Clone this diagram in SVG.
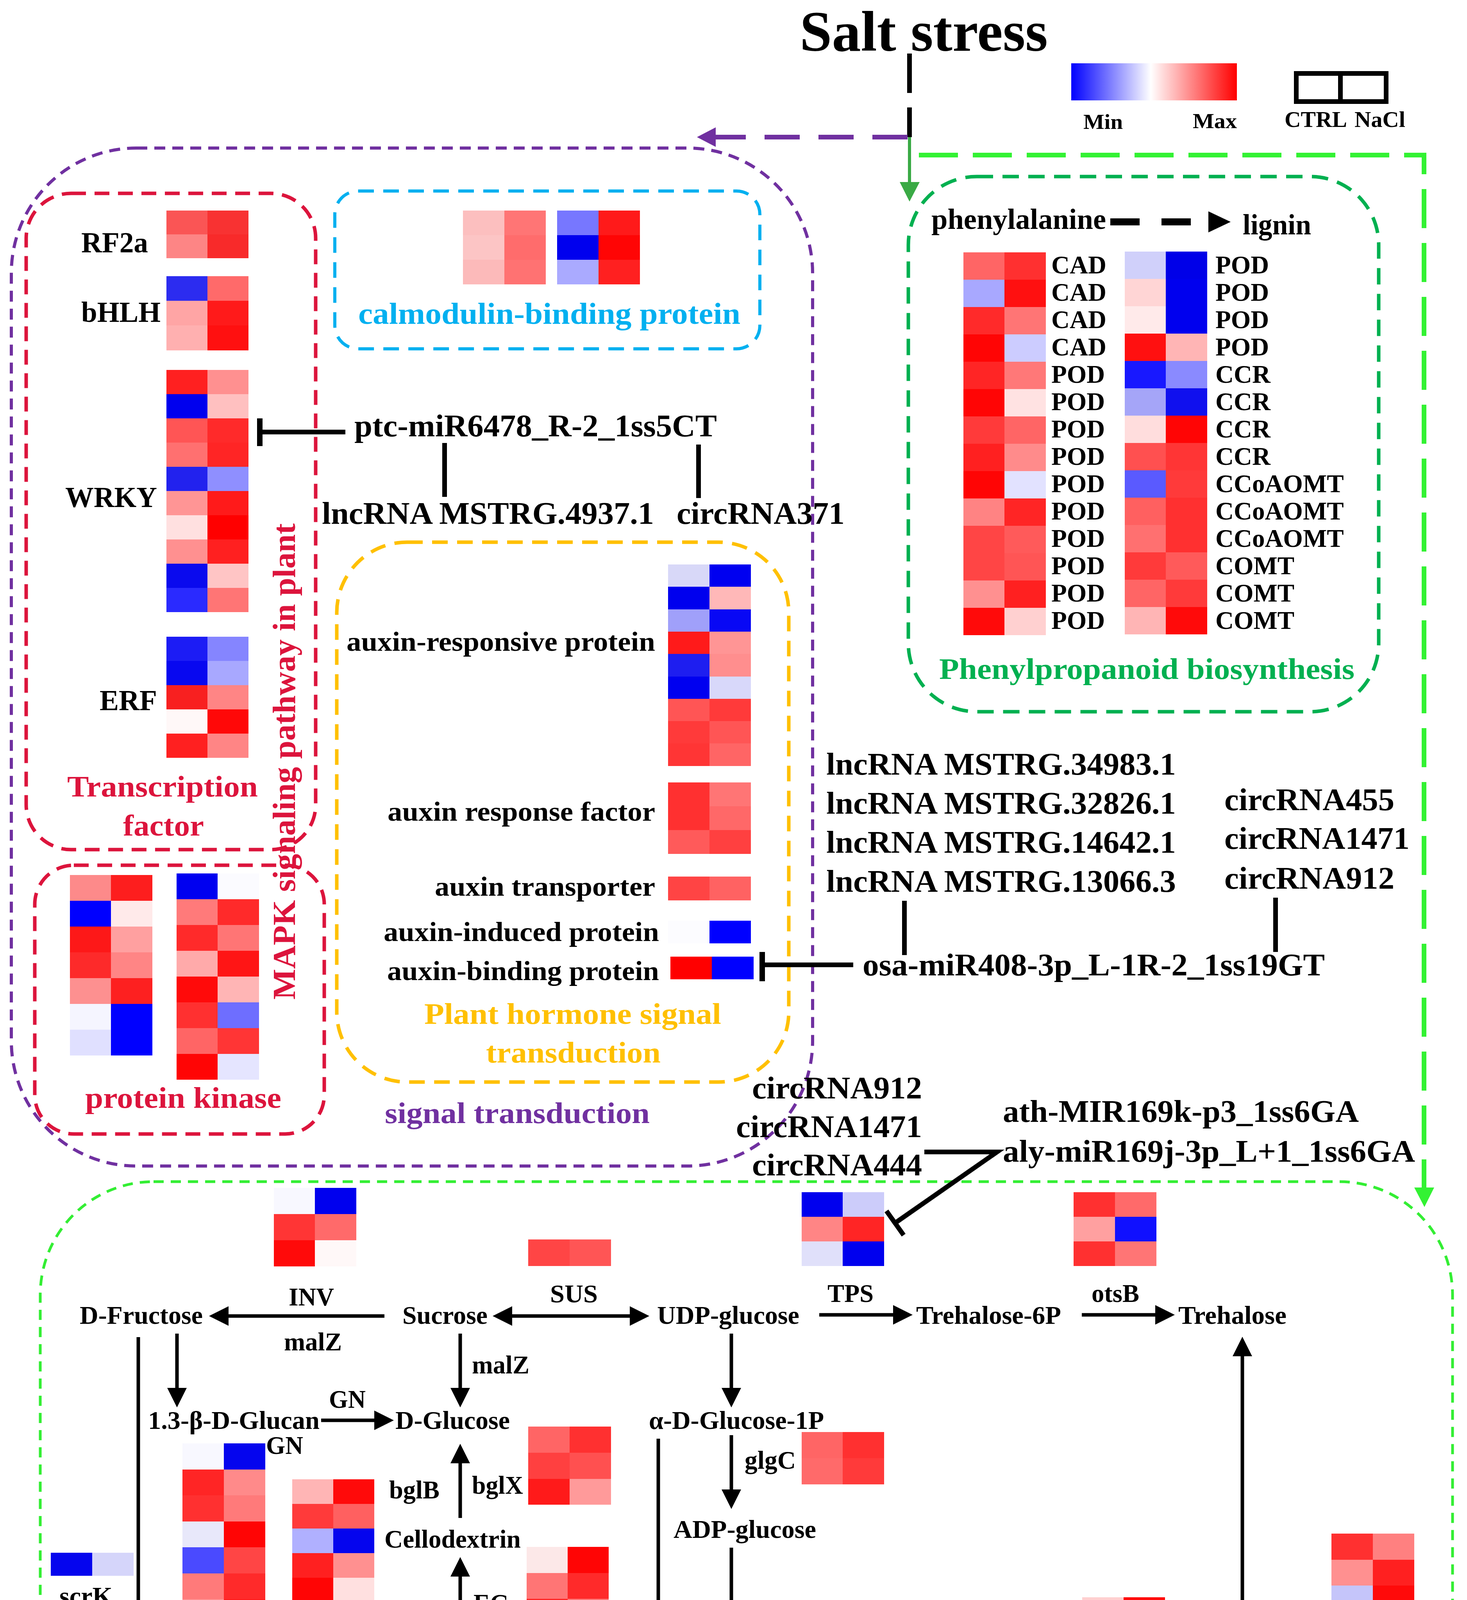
<svg xmlns="http://www.w3.org/2000/svg" width="3755" height="4988" viewBox="0 0 3755 4988">
<defs>
<style>
.t{font-family:"Liberation Serif","Times New Roman",serif;font-weight:bold;fill:#000}
.m{font-size:66px}
.n{font-size:81px}
.h{font-size:73px}
.g{font-size:65px}
.a{font-size:70px}
.L{font-size:76px}
.red{fill:#dc143c}
.box{fill:none}
.ln{stroke:#000;stroke-width:12;fill:none}
.ar{stroke:#000;stroke-width:9;fill:none}
.ds{stroke-dasharray:32 24}
</style>
<linearGradient id="grad" x1="0" x2="1" y1="0" y2="0"><stop offset="0" stop-color="#0000ff"/><stop offset="0.48" stop-color="#ffffff"/><stop offset="1" stop-color="#ff0000"/></linearGradient>
<marker id="ah" viewBox="0 0 50 50" refX="0" refY="25" markerWidth="50" markerHeight="50" markerUnits="userSpaceOnUse" orient="auto-start-reverse"><path d="M0,0L50,25L0,50z" fill="#000"/></marker>
</defs>
<rect width="3755" height="4988" fill="#fff"/>

<g id="boxes">
<rect id="box-signal" class="box" x="29" y="379" width="2051" height="2606" rx="320" stroke="#7030a0" stroke-width="8" stroke-dasharray="28 18"/>
<rect id="box-tf" class="box" x="67" y="495" width="741" height="1680" rx="115" stroke="#dc143c" stroke-width="9" stroke-dasharray="38 22"/>
<rect id="box-pk" class="box" x="89" y="2215" width="741" height="688" rx="100" stroke="#dc143c" stroke-width="9" stroke-dasharray="38 22"/>
<rect id="box-cam" class="box" x="857" y="489" width="1088" height="404" rx="60" stroke="#00b0f0" stroke-width="8" stroke-dasharray="40 24"/>
<rect id="box-hormone" class="box" x="862" y="1388" width="1157" height="1382" rx="180" stroke="#ffc000" stroke-width="9" stroke-dasharray="40 24"/>
<rect id="box-phenyl" class="box" x="2325" y="452" width="1204" height="1370" rx="175" stroke="#00b050" stroke-width="9" stroke-dasharray="42 24"/>
<rect id="box-starch" class="box" x="103" y="3025" width="3615" height="1932" rx="290" stroke="#33ee33" stroke-width="7" stroke-dasharray="26 18"/>
</g>

<g id="connectors">
<path d="M2328,137V351" stroke="#000" stroke-width="12" stroke-dasharray="101 37" fill="none"/>
<path d="M2323,351H1832" stroke="#7030a0" stroke-width="12" stroke-dasharray="90 48" fill="none"/>
<polygon points="1784,351 1832,326 1832,376" fill="#7030a0"/>
<path d="M2328,351V466" stroke="#3aaa45" stroke-width="8" fill="none"/>
<polygon points="2303,466 2354,466 2328,516" fill="#3aaa45"/>
<path d="M2352,397H3645V3040" stroke="#33f233" stroke-width="12" stroke-dasharray="100 38" fill="none"/>
<polygon points="3620,3040 3671,3040 3646,3090" fill="#33f233"/>
<path class="ln" d="M884,1106H665"/>
<path d="M665,1071V1142" stroke="#000" stroke-width="14"/>
<path class="ln" d="M1138,1134V1272"/>
<path class="ln" d="M1788,1138V1275"/>
<path class="ln" d="M2184,2470H1951"/>
<path d="M1951,2437V2512" stroke="#000" stroke-width="14"/>
<path class="ln" d="M2315,2306V2445"/>
<path class="ln" d="M3265,2298V2437"/>
<path class="ln" d="M2366,2949H2552L2291,3131"/>
<path d="M2269,3100L2313,3162" stroke="#000" stroke-width="12"/>
<path d="M2842,568H3093" stroke="#000" stroke-width="18" stroke-dasharray="75 56" fill="none"/>
<polygon points="3093,541 3093,595 3150,568" fill="#000"/>
<path class="ar" d="M984,3369H585" marker-end="url(#ah)"/>
<path class="ar" d="M1311,3369H1612" marker-start="url(#ah)" marker-end="url(#ah)"/>
<path class="ar" d="M2097,3366H2286" marker-end="url(#ah)"/>
<path class="ar" d="M2769,3366H2957" marker-end="url(#ah)"/>
<path class="ar" d="M3180,3472V4338" marker-start="url(#ah)" marker-end="url(#ah)"/>
<path class="ar" d="M354,3423V4674" marker-end="url(#ah)"/>
<path class="ar" d="M453,3414V3553" marker-end="url(#ah)"/>
<path class="ar" d="M822,3636H958" marker-end="url(#ah)"/>
<path class="ar" d="M1178,3414V3553" marker-end="url(#ah)"/>
<path class="ar" d="M1178,3886V3746" marker-end="url(#ah)"/>
<path class="ar" d="M1178,4177V4036" marker-end="url(#ah)"/>
<path class="ar" d="M1178,4422V4284" marker-end="url(#ah)"/>
<path class="ar" d="M1685,3683V4465H1498" marker-end="url(#ah)"/>
<path class="ar" d="M1872,3414V3553" marker-end="url(#ah)"/>
<path class="ar" d="M1872,3674V3813" marker-end="url(#ah)"/>
<path class="ar" d="M1872,3962V4100" marker-end="url(#ah)"/>
<path class="ar ds" d="M1872,4231V4367" marker-end="url(#ah)"/>
<path class="ar ds" d="M1985,4465H2264" marker-end="url(#ah)"/>
<path class="ar" d="M2769,4465H2978" marker-end="url(#ah)"/>
<path class="ar" d="M3182,4512V4678" marker-end="url(#ah)"/>
<path class="ar ds" d="M1871,4503V4642" marker-end="url(#ah)"/>
</g>

<g id="title"><text class="t" x="2047" y="130" font-size="146" textLength="635" lengthAdjust="spacingAndGlyphs">Salt stress</text></g>

<g id="legend">
<rect x="2742" y="162" width="424" height="95" fill="url(#grad)"/>
<text class="t" x="2773" y="330" font-size="54" textLength="101" lengthAdjust="spacingAndGlyphs">Min</text>
<text class="t" x="3053" y="328" font-size="54" textLength="113" lengthAdjust="spacingAndGlyphs">Max</text>
<rect x="3318" y="188" width="230" height="72" fill="none" stroke="#000" stroke-width="12"/>
<path d="M3431,188V260" stroke="#000" stroke-width="12"/>
<text class="t" x="3288" y="325" font-size="56" textLength="160" lengthAdjust="spacingAndGlyphs">CTRL</text>
<text class="t" x="3467" y="325" font-size="56" textLength="130" lengthAdjust="spacingAndGlyphs">NaCl</text>
</g>

<g id="hm-rf2a" transform="translate(426,539)">
<rect x="0" y="0" width="106" height="62" fill="#fa5555"/><rect x="105" y="0" width="105" height="62" fill="#f83232"/>
<rect x="0" y="61" width="106" height="61" fill="#fd8585"/><rect x="105" y="61" width="105" height="61" fill="#f82a2a"/>
</g>
<g id="lbl-rf2a"><text class="t h" x="208" y="646" textLength="171" lengthAdjust="spacingAndGlyphs">RF2a</text></g>

<g id="hm-bhlh" transform="translate(426,707)">
<rect x="0" y="0" width="106" height="64" fill="#2c2cf0"/><rect x="105" y="0" width="105" height="64" fill="#ff6a6a"/>
<rect x="0" y="63" width="106" height="64" fill="#ffa5a5"/><rect x="105" y="63" width="105" height="64" fill="#ff1a1a"/>
<rect x="0" y="126" width="106" height="64" fill="#ffb0b0"/><rect x="105" y="126" width="105" height="64" fill="#ff1010"/>
</g>
<g id="lbl-bhlh"><text class="t h" x="208" y="824" textLength="203" lengthAdjust="spacingAndGlyphs">bHLH</text></g>

<g id="hm-wrky" transform="translate(426,947)">
<rect x="0" y="0" width="106" height="63" fill="#ff2020"/><rect x="105" y="0" width="105" height="63" fill="#ff9090"/>
<rect x="0" y="62" width="106" height="63" fill="#0000ee"/><rect x="105" y="62" width="105" height="63" fill="#ffc0c0"/>
<rect x="0" y="124" width="106" height="63" fill="#ff5555"/><rect x="105" y="124" width="105" height="63" fill="#ff2a2a"/>
<rect x="0" y="186" width="106" height="63" fill="#ff7070"/><rect x="105" y="186" width="105" height="63" fill="#ff2525"/>
<rect x="0" y="248" width="106" height="63" fill="#2222ee"/><rect x="105" y="248" width="105" height="63" fill="#8f8fff"/>
<rect x="0" y="310" width="106" height="63" fill="#ff9595"/><rect x="105" y="310" width="105" height="63" fill="#ff1a1a"/>
<rect x="0" y="372" width="106" height="63" fill="#ffe0e0"/><rect x="105" y="372" width="105" height="63" fill="#ff0000"/>
<rect x="0" y="434" width="106" height="63" fill="#ff9090"/><rect x="105" y="434" width="105" height="63" fill="#ff2020"/>
<rect x="0" y="496" width="106" height="63" fill="#0a0aee"/><rect x="105" y="496" width="105" height="63" fill="#ffc5c5"/>
<rect x="0" y="558" width="106" height="62" fill="#2a2aff"/><rect x="105" y="558" width="105" height="62" fill="#ff7575"/>
</g>
<g id="lbl-wrky"><text class="t h" x="167" y="1298" textLength="235" lengthAdjust="spacingAndGlyphs">WRKY</text></g>

<g id="hm-erf" transform="translate(426,1630)">
<rect x="0" y="0" width="106" height="63" fill="#1c1cf5"/><rect x="105" y="0" width="105" height="63" fill="#8585ff"/>
<rect x="0" y="62" width="106" height="63" fill="#0808f0"/><rect x="105" y="62" width="105" height="63" fill="#a8a8ff"/>
<rect x="0" y="124" width="106" height="63" fill="#f82020"/><rect x="105" y="124" width="105" height="63" fill="#ff8585"/>
<rect x="0" y="186" width="106" height="63" fill="#fff8f8"/><rect x="105" y="186" width="105" height="63" fill="#ff0808"/>
<rect x="0" y="248" width="106" height="62" fill="#ff2020"/><rect x="105" y="248" width="105" height="62" fill="#ff8585"/>
</g>
<g id="lbl-erf"><text class="t h" x="255" y="1818" textLength="147" lengthAdjust="spacingAndGlyphs">ERF</text></g>

<g id="lbl-tf">
<text class="t L red" x="172" y="2039" textLength="488" lengthAdjust="spacingAndGlyphs">Transcription</text>
<text class="t L red" x="315" y="2139" textLength="207" lengthAdjust="spacingAndGlyphs">factor</text>
</g>

<g id="hm-pk1" transform="translate(179,2240)">
<rect x="0" y="0" width="106" height="67" fill="#fd8a8a"/><rect x="105" y="0" width="106" height="67" fill="#fd1e1e"/>
<rect x="0" y="66" width="106" height="67" fill="#0000ff"/><rect x="105" y="66" width="106" height="67" fill="#ffeaea"/>
<rect x="0" y="132" width="106" height="67" fill="#fd1818"/><rect x="105" y="132" width="106" height="67" fill="#ffa0a0"/>
<rect x="0" y="198" width="106" height="67" fill="#fd2a2a"/><rect x="105" y="198" width="106" height="67" fill="#ff8585"/>
<rect x="0" y="264" width="106" height="67" fill="#fd9090"/><rect x="105" y="264" width="106" height="67" fill="#fd2020"/>
<rect x="0" y="330" width="106" height="67" fill="#f5f5ff"/><rect x="105" y="330" width="106" height="67" fill="#0000ff"/>
<rect x="0" y="396" width="106" height="66" fill="#e0e0ff"/><rect x="105" y="396" width="106" height="66" fill="#0000ff"/>
</g>
<g id="hm-pk2" transform="translate(452,2236)">
<rect x="0" y="0" width="106" height="67" fill="#0000f0"/><rect x="105" y="0" width="106" height="67" fill="#fbfbff"/>
<rect x="0" y="66" width="106" height="67" fill="#ff7a7a"/><rect x="105" y="66" width="106" height="67" fill="#ff2a2a"/>
<rect x="0" y="132" width="106" height="67" fill="#ff2a2a"/><rect x="105" y="132" width="106" height="67" fill="#ff7575"/>
<rect x="0" y="198" width="106" height="67" fill="#ffaaaa"/><rect x="105" y="198" width="106" height="67" fill="#ff1515"/>
<rect x="0" y="264" width="106" height="67" fill="#ff0a0a"/><rect x="105" y="264" width="106" height="67" fill="#ffb5b5"/>
<rect x="0" y="330" width="106" height="67" fill="#ff3030"/><rect x="105" y="330" width="106" height="67" fill="#6e6eff"/>
<rect x="0" y="396" width="106" height="67" fill="#ff6565"/><rect x="105" y="396" width="106" height="67" fill="#ff3535"/>
<rect x="0" y="462" width="106" height="66" fill="#ff0505"/><rect x="105" y="462" width="106" height="66" fill="#e5e5ff"/>
</g>
<g id="lbl-pk"><text class="t L red" x="218" y="2836" textLength="502" lengthAdjust="spacingAndGlyphs">protein kinase</text></g>

<g id="lbl-mapk"><text class="t red" font-size="83" transform="translate(755,2559) rotate(-90)" textLength="1219" lengthAdjust="spacingAndGlyphs">MAPK signaling pathway in plant</text></g>

<g id="hm-cam1" transform="translate(1185,539)">
<rect x="0" y="0" width="107" height="64" fill="#fcbfbf"/><rect x="106" y="0" width="106" height="64" fill="#ff7575"/>
<rect x="0" y="63" width="107" height="64" fill="#fcc5c5"/><rect x="106" y="63" width="106" height="64" fill="#ff6c6c"/>
<rect x="0" y="126" width="107" height="63" fill="#fcbaba"/><rect x="106" y="126" width="106" height="63" fill="#ff7272"/>
</g>
<g id="hm-cam2" transform="translate(1426,539)">
<rect x="0" y="0" width="107" height="64" fill="#7777ff"/><rect x="106" y="0" width="106" height="64" fill="#ff1a1a"/>
<rect x="0" y="63" width="107" height="64" fill="#0000ee"/><rect x="106" y="63" width="106" height="64" fill="#ff0505"/>
<rect x="0" y="126" width="107" height="63" fill="#aaaaff"/><rect x="106" y="126" width="106" height="63" fill="#ff2020"/>
</g>
<g id="lbl-cam"><text class="t" font-size="78" x="917" y="829" style="fill:#00b0f0" textLength="978" lengthAdjust="spacingAndGlyphs">calmodulin-binding protein</text></g>

<g id="n-ptc"><text class="t n" x="907" y="1117" textLength="928" lengthAdjust="spacingAndGlyphs">ptc-miR6478_R-2_1ss5CT</text></g>
<g id="n-lnc4937"><text class="t n" x="824" y="1341" textLength="850" lengthAdjust="spacingAndGlyphs">lncRNA MSTRG.4937.1</text></g>
<g id="n-circ371"><text class="t n" x="1732" y="1341" textLength="430" lengthAdjust="spacingAndGlyphs">circRNA371</text></g>

<g id="hm-aux1" transform="translate(1710,1445)">
<rect x="0" y="0" width="107" height="58" fill="#d8d8f8"/><rect x="106" y="0" width="106" height="58" fill="#0000f0"/>
<rect x="0" y="57" width="107" height="59" fill="#0000ee"/><rect x="106" y="57" width="106" height="59" fill="#ffb8b8"/>
<rect x="0" y="115" width="107" height="58" fill="#a0a0fa"/><rect x="106" y="115" width="106" height="58" fill="#0808f5"/>
<rect x="0" y="172" width="107" height="58" fill="#ff1a1a"/><rect x="106" y="172" width="106" height="58" fill="#ff9595"/>
<rect x="0" y="229" width="107" height="59" fill="#1e1ef0"/><rect x="106" y="229" width="106" height="59" fill="#ff8e8e"/>
<rect x="0" y="287" width="107" height="58" fill="#0000f0"/><rect x="106" y="287" width="106" height="58" fill="#d8d8fa"/>
<rect x="0" y="344" width="107" height="58" fill="#ff5555"/><rect x="106" y="344" width="106" height="58" fill="#ff3a3a"/>
<rect x="0" y="401" width="107" height="58" fill="#ff3a3a"/><rect x="106" y="401" width="106" height="58" fill="#ff5555"/>
<rect x="0" y="458" width="107" height="58" fill="#ff3535"/><rect x="106" y="458" width="106" height="58" fill="#ff6565"/>
</g>
<g id="lbl-aux1"><text class="t a" x="887" y="1666" textLength="790" lengthAdjust="spacingAndGlyphs">auxin-responsive protein</text></g>
<g id="hm-arf" transform="translate(1710,2003)">
<rect x="0" y="0" width="107" height="62" fill="#ff3030"/><rect x="106" y="0" width="106" height="62" fill="#ff7575"/>
<rect x="0" y="61" width="107" height="62" fill="#ff3030"/><rect x="106" y="61" width="106" height="62" fill="#ff6868"/>
<rect x="0" y="122" width="107" height="61" fill="#ff5a5a"/><rect x="106" y="122" width="106" height="61" fill="#ff4040"/>
</g>
<g id="lbl-arf"><text class="t a" x="992" y="2101" textLength="685" lengthAdjust="spacingAndGlyphs">auxin response factor</text></g>
<g id="hm-atr" transform="translate(1710,2244)">
<rect x="0" y="0" width="107" height="61" fill="#ff4444"/><rect x="106" y="0" width="106" height="61" fill="#ff6262"/>
</g>
<g id="lbl-atr"><text class="t a" x="1113" y="2293" textLength="564" lengthAdjust="spacingAndGlyphs">auxin transporter</text></g>
<g id="hm-aind" transform="translate(1710,2357)">
<rect x="0" y="0" width="107" height="58" fill="#fcfcff"/><rect x="106" y="0" width="106" height="58" fill="#0000ff"/>
</g>
<g id="lbl-aind"><text class="t a" x="982" y="2409" textLength="705" lengthAdjust="spacingAndGlyphs">auxin-induced protein</text></g>
<g id="hm-abp" transform="translate(1716,2449)">
<rect x="0" y="0" width="107" height="58" fill="#ff0000"/><rect x="106" y="0" width="107" height="58" fill="#0000ff"/>
</g>
<g id="lbl-abp"><text class="t a" x="991" y="2509" textLength="696" lengthAdjust="spacingAndGlyphs">auxin-binding protein</text></g>
<g id="lbl-hormone">
<text class="t L" x="1086" y="2621" style="fill:#ffc000" textLength="760" lengthAdjust="spacingAndGlyphs">Plant hormone signal</text>
<text class="t L" x="1244" y="2720" style="fill:#ffc000" textLength="447" lengthAdjust="spacingAndGlyphs">transduction</text>
</g>
<g id="lbl-signal"><text class="t L" x="985" y="2875" style="fill:#7030a0" textLength="678" lengthAdjust="spacingAndGlyphs">signal transduction</text></g>

<g id="n-phe"><text class="t" font-size="74" x="2384" y="586" textLength="447" lengthAdjust="spacingAndGlyphs">phenylalanine</text></g>
<g id="n-lignin"><text class="t" font-size="74" x="3181" y="600" textLength="175" lengthAdjust="spacingAndGlyphs">lignin</text></g>

<g id="hm-ph1" transform="translate(2466,646)">
<rect x="0" y="0" width="106" height="71" fill="#ff6565"/><rect x="105" y="0" width="106" height="71" fill="#ff3030"/>
<rect x="0" y="70" width="106" height="71" fill="#a8a8ff"/><rect x="105" y="70" width="106" height="71" fill="#ff1010"/>
<rect x="0" y="140" width="106" height="71" fill="#ff2a2a"/><rect x="105" y="140" width="106" height="71" fill="#ff7575"/>
<rect x="0" y="210" width="106" height="71" fill="#ff0505"/><rect x="105" y="210" width="106" height="71" fill="#ccccff"/>
<rect x="0" y="280" width="106" height="71" fill="#ff2525"/><rect x="105" y="280" width="106" height="71" fill="#ff7878"/>
<rect x="0" y="350" width="106" height="71" fill="#ff0505"/><rect x="105" y="350" width="106" height="71" fill="#ffe2e2"/>
<rect x="0" y="420" width="106" height="71" fill="#ff3a3a"/><rect x="105" y="420" width="106" height="71" fill="#ff6565"/>
<rect x="0" y="490" width="106" height="71" fill="#ff2020"/><rect x="105" y="490" width="106" height="71" fill="#ff8b8b"/>
<rect x="0" y="560" width="106" height="71" fill="#ff0505"/><rect x="105" y="560" width="106" height="71" fill="#e2e2ff"/>
<rect x="0" y="630" width="106" height="71" fill="#ff8383"/><rect x="105" y="630" width="106" height="71" fill="#ff2525"/>
<rect x="0" y="700" width="106" height="71" fill="#ff4545"/><rect x="105" y="700" width="106" height="71" fill="#ff5a5a"/>
<rect x="0" y="770" width="106" height="71" fill="#ff4545"/><rect x="105" y="770" width="106" height="71" fill="#ff5555"/>
<rect x="0" y="840" width="106" height="71" fill="#ff9090"/><rect x="105" y="840" width="106" height="71" fill="#ff2020"/>
<rect x="0" y="910" width="106" height="70" fill="#ff0a0a"/><rect x="105" y="910" width="106" height="70" fill="#ffd0d0"/>
</g>
<g id="hm-ph2" transform="translate(2879,644)">
<rect x="0" y="0" width="106" height="71" fill="#d0d0fa"/><rect x="105" y="0" width="106" height="71" fill="#0000e8"/>
<rect x="0" y="70" width="106" height="71" fill="#ffd5d5"/><rect x="105" y="70" width="106" height="71" fill="#0000ee"/>
<rect x="0" y="140" width="106" height="71" fill="#ffeaea"/><rect x="105" y="140" width="106" height="71" fill="#0000ee"/>
<rect x="0" y="210" width="106" height="71" fill="#ff1010"/><rect x="105" y="210" width="106" height="71" fill="#ffb5b5"/>
<rect x="0" y="280" width="106" height="71" fill="#1818ff"/><rect x="105" y="280" width="106" height="71" fill="#8a8aff"/>
<rect x="0" y="350" width="106" height="71" fill="#a5a5f8"/><rect x="105" y="350" width="106" height="71" fill="#1010ee"/>
<rect x="0" y="420" width="106" height="71" fill="#ffdddd"/><rect x="105" y="420" width="106" height="71" fill="#ff0505"/>
<rect x="0" y="490" width="106" height="71" fill="#ff5050"/><rect x="105" y="490" width="106" height="71" fill="#ff3535"/>
<rect x="0" y="560" width="106" height="71" fill="#5a5aff"/><rect x="105" y="560" width="106" height="71" fill="#ff3a3a"/>
<rect x="0" y="630" width="106" height="71" fill="#ff6060"/><rect x="105" y="630" width="106" height="71" fill="#ff3030"/>
<rect x="0" y="700" width="106" height="71" fill="#ff7070"/><rect x="105" y="700" width="106" height="71" fill="#ff3030"/>
<rect x="0" y="770" width="106" height="71" fill="#ff3a3a"/><rect x="105" y="770" width="106" height="71" fill="#ff5a5a"/>
<rect x="0" y="840" width="106" height="71" fill="#ff6565"/><rect x="105" y="840" width="106" height="71" fill="#ff3a3a"/>
<rect x="0" y="910" width="106" height="70" fill="#ffb5b5"/><rect x="105" y="910" width="106" height="70" fill="#ff0a0a"/>
</g>
<g id="lbl-ph1" class="t g">
<text x="2691" y="700">CAD</text><text x="2691" y="770">CAD</text><text x="2691" y="840">CAD</text><text x="2691" y="910">CAD</text>
<text x="2691" y="980">POD</text><text x="2691" y="1050">POD</text><text x="2691" y="1120">POD</text><text x="2691" y="1190">POD</text>
<text x="2691" y="1260">POD</text><text x="2691" y="1330">POD</text><text x="2691" y="1400">POD</text><text x="2691" y="1470">POD</text>
<text x="2691" y="1540">POD</text><text x="2691" y="1610">POD</text>
</g>
<g id="lbl-ph2" class="t g">
<text x="3111" y="700">POD</text><text x="3111" y="770">POD</text><text x="3111" y="840">POD</text><text x="3111" y="910">POD</text>
<text x="3111" y="980">CCR</text><text x="3111" y="1050">CCR</text><text x="3111" y="1120">CCR</text><text x="3111" y="1190">CCR</text>
<text x="3111" y="1260">CCoAOMT</text><text x="3111" y="1330">CCoAOMT</text><text x="3111" y="1400">CCoAOMT</text>
<text x="3111" y="1470">COMT</text><text x="3111" y="1540">COMT</text><text x="3111" y="1610">COMT</text>
</g>
<g id="lbl-phenyl"><text class="t L" x="2404" y="1738" style="fill:#00b050" textLength="1063" lengthAdjust="spacingAndGlyphs">Phenylpropanoid biosynthesis</text></g>

<g id="n-lnc-group">
<text class="t n" x="2115" y="1983" textLength="895" lengthAdjust="spacingAndGlyphs">lncRNA MSTRG.34983.1</text>
<text class="t n" x="2115" y="2083" textLength="895" lengthAdjust="spacingAndGlyphs">lncRNA MSTRG.32826.1</text>
<text class="t n" x="2115" y="2183" textLength="895" lengthAdjust="spacingAndGlyphs">lncRNA MSTRG.14642.1</text>
<text class="t n" x="2115" y="2283" textLength="895" lengthAdjust="spacingAndGlyphs">lncRNA MSTRG.13066.3</text>
</g>
<g id="n-circ-group1">
<text class="t n" x="3134" y="2074" textLength="435" lengthAdjust="spacingAndGlyphs">circRNA455</text>
<text class="t n" x="3134" y="2173" textLength="474" lengthAdjust="spacingAndGlyphs">circRNA1471</text>
<text class="t n" x="3134" y="2275" textLength="435" lengthAdjust="spacingAndGlyphs">circRNA912</text>
</g>
<g id="n-osa"><text class="t n" x="2208" y="2497" textLength="1183" lengthAdjust="spacingAndGlyphs">osa-miR408-3p_L-1R-2_1ss19GT</text></g>
<g id="n-circ-group2">
<text class="t n" x="1925" y="2812" textLength="435" lengthAdjust="spacingAndGlyphs">circRNA912</text>
<text class="t n" x="1884" y="2911" textLength="476" lengthAdjust="spacingAndGlyphs">circRNA1471</text>
<text class="t n" x="1925" y="3009" textLength="435" lengthAdjust="spacingAndGlyphs">circRNA444</text>
</g>
<g id="n-mir169">
<text class="t n" x="2567" y="2872" textLength="911" lengthAdjust="spacingAndGlyphs">ath-MIR169k-p3_1ss6GA</text>
<text class="t n" x="2567" y="2974" textLength="1055" lengthAdjust="spacingAndGlyphs">aly-miR169j-3p_L+1_1ss6GA</text>
</g>

<g id="hm-inv" transform="translate(701,3041)">
<rect x="0" y="0" width="106" height="68" fill="#f8f8ff"/><rect x="105" y="0" width="106" height="68" fill="#0000ee"/>
<rect x="0" y="67" width="106" height="68" fill="#ff3535"/><rect x="105" y="67" width="106" height="68" fill="#ff6a6a"/>
<rect x="0" y="134" width="106" height="67" fill="#ff0a0a"/><rect x="105" y="134" width="106" height="67" fill="#fff8f8"/>
</g>
<g id="hm-sus" transform="translate(1352,3173)">
<rect x="0" y="0" width="107" height="68" fill="#ff4545"/><rect x="106" y="0" width="106" height="68" fill="#ff5555"/>
</g>
<g id="hm-tps" transform="translate(2052,3052)">
<rect x="0" y="0" width="106" height="64" fill="#0000ee"/><rect x="105" y="0" width="106" height="64" fill="#ccccfa"/>
<rect x="0" y="63" width="106" height="64" fill="#ff8585"/><rect x="105" y="63" width="106" height="64" fill="#ff2525"/>
<rect x="0" y="126" width="106" height="63" fill="#e0e0fa"/><rect x="105" y="126" width="106" height="63" fill="#0000ee"/>
</g>
<g id="hm-otsb" transform="translate(2748,3052)">
<rect x="0" y="0" width="107" height="64" fill="#ff3030"/><rect x="106" y="0" width="106" height="64" fill="#ff6a6a"/>
<rect x="0" y="63" width="107" height="64" fill="#ffa0a0"/><rect x="106" y="63" width="106" height="64" fill="#1010ff"/>
<rect x="0" y="126" width="107" height="63" fill="#ff3030"/><rect x="106" y="126" width="106" height="63" fill="#ff7575"/>
</g>

<g id="hm-gn" transform="translate(467,3695)">
<rect x="0" y="0" width="107" height="68" fill="#f8f8ff"/><rect x="106" y="0" width="106" height="68" fill="#0505ee"/>
<rect x="0" y="67" width="107" height="67" fill="#ff2525"/><rect x="106" y="67" width="106" height="67" fill="#ff8a8a"/>
<rect x="0" y="133" width="107" height="68" fill="#ff3030"/><rect x="106" y="133" width="106" height="68" fill="#ff7a7a"/>
<rect x="0" y="200" width="107" height="67" fill="#e8e8fa"/><rect x="106" y="200" width="106" height="67" fill="#ff0505"/>
<rect x="0" y="266" width="107" height="68" fill="#4a4aff"/><rect x="106" y="266" width="106" height="68" fill="#ff4545"/>
<rect x="0" y="333" width="107" height="67" fill="#ff7a7a"/><rect x="106" y="333" width="106" height="67" fill="#ff2a2a"/>
<rect x="0" y="399" width="107" height="68" fill="#ff9595"/><rect x="106" y="399" width="106" height="68" fill="#ff1a1a"/>
<rect x="0" y="466" width="107" height="67" fill="#ff3a3a"/><rect x="106" y="466" width="106" height="67" fill="#ff6060"/>
<rect x="0" y="532" width="107" height="68" fill="#ff2020"/><rect x="106" y="532" width="106" height="68" fill="#ff8585"/>
<rect x="0" y="599" width="107" height="67" fill="#ff3030"/><rect x="106" y="599" width="106" height="67" fill="#ff6a6a"/>
<rect x="0" y="665" width="107" height="68" fill="#ff0505"/><rect x="106" y="665" width="106" height="68" fill="#fafffa"/>
<rect x="0" y="732" width="107" height="67" fill="#ff3030"/><rect x="106" y="732" width="106" height="67" fill="#ff7070"/>
<rect x="0" y="798" width="107" height="68" fill="#ff3535"/><rect x="106" y="798" width="106" height="68" fill="#ff6a6a"/>
<rect x="0" y="865" width="107" height="67" fill="#9090f8"/><rect x="106" y="865" width="106" height="67" fill="#1515ff"/>
<rect x="0" y="931" width="107" height="67" fill="#ff4040"/><rect x="106" y="931" width="106" height="67" fill="#ff5a5a"/>
</g>
<g id="hm-bglb" transform="translate(748,3787)">
<rect x="0" y="0" width="106" height="64" fill="#ffb5b5"/><rect x="105" y="0" width="105" height="64" fill="#ff0a0a"/>
<rect x="0" y="63" width="106" height="64" fill="#ff3a3a"/><rect x="105" y="63" width="105" height="64" fill="#ff6060"/>
<rect x="0" y="126" width="106" height="64" fill="#b0b0ff"/><rect x="105" y="126" width="105" height="64" fill="#0505ee"/>
<rect x="0" y="189" width="106" height="64" fill="#ff2020"/><rect x="105" y="189" width="105" height="64" fill="#ff9090"/>
<rect x="0" y="252" width="106" height="63" fill="#ff0505"/><rect x="105" y="252" width="105" height="63" fill="#ffe0e0"/>
</g>
<g id="hm-bglx" transform="translate(1352,3652)">
<rect x="0" y="0" width="107" height="68" fill="#ff6565"/><rect x="106" y="0" width="106" height="68" fill="#ff3030"/>
<rect x="0" y="67" width="107" height="68" fill="#ff4040"/><rect x="106" y="67" width="106" height="68" fill="#ff5050"/>
<rect x="0" y="134" width="107" height="66" fill="#ff1a1a"/><rect x="106" y="134" width="106" height="66" fill="#ff9a9a"/>
</g>
<g id="hm-eg" transform="translate(1348,3960)">
<rect x="0" y="0" width="106" height="68" fill="#fce8e8"/><rect x="105" y="0" width="105" height="68" fill="#ff0505"/>
<rect x="0" y="67" width="106" height="67" fill="#ff7575"/><rect x="105" y="67" width="105" height="67" fill="#ff2a2a"/>
<rect x="0" y="133" width="106" height="68" fill="#ff2525"/><rect x="105" y="133" width="105" height="68" fill="#ff7a7a"/>
<rect x="0" y="200" width="106" height="67" fill="#ff9090"/><rect x="105" y="200" width="105" height="67" fill="#ff2020"/>
<rect x="0" y="266" width="106" height="68" fill="#ff6a6a"/><rect x="105" y="266" width="105" height="68" fill="#ff3030"/>
<rect x="0" y="333" width="106" height="66" fill="#ff7070"/><rect x="105" y="333" width="105" height="66" fill="#ff3030"/>
</g>
<g id="hm-scrk" transform="translate(130,3975)">
<rect x="0" y="0" width="107" height="59" fill="#0505ee"/><rect x="106" y="0" width="106" height="59" fill="#d5d5fa"/>
</g>
<g id="hm-glgc" transform="translate(2052,3666)">
<rect x="0" y="0" width="106" height="68" fill="#ff6565"/><rect x="105" y="0" width="106" height="68" fill="#ff3030"/>
<rect x="0" y="67" width="106" height="67" fill="#ff6a6a"/><rect x="105" y="67" width="106" height="67" fill="#ff3a3a"/>
</g>
<g id="hm-isa" transform="translate(2021,4273)">
<rect x="0" y="0" width="107" height="72" fill="#ff1515"/><rect x="106" y="0" width="106" height="72" fill="#ffaaaa"/>
</g>
<g id="hm-amy" transform="translate(2770,4089)">
<rect x="0" y="0" width="107" height="63" fill="#ffd0d0"/><rect x="106" y="0" width="106" height="63" fill="#ff0a0a"/>
<rect x="0" y="62" width="107" height="63" fill="#ff8585"/><rect x="106" y="62" width="106" height="63" fill="#ff2020"/>
<rect x="0" y="124" width="107" height="63" fill="#ffc5c5"/><rect x="106" y="124" width="106" height="63" fill="#ff0a0a"/>
<rect x="0" y="186" width="107" height="62" fill="#1010ee"/><rect x="106" y="186" width="106" height="62" fill="#a0a0ff"/>
</g>
<g id="hm-mal" transform="translate(3408,3926)">
<rect x="0" y="0" width="107" height="68" fill="#ff3030"/><rect x="106" y="0" width="106" height="68" fill="#ff8080"/>
<rect x="0" y="67" width="107" height="67" fill="#ff9090"/><rect x="106" y="67" width="106" height="67" fill="#ff2020"/>
<rect x="0" y="133" width="107" height="68" fill="#c5c5fa"/><rect x="106" y="133" width="106" height="68" fill="#ff0a0a"/>
<rect x="0" y="200" width="107" height="68" fill="#0505ee"/><rect x="106" y="200" width="106" height="68" fill="#b0b0fa"/>
<rect x="0" y="267" width="107" height="68" fill="#fde5e5"/><rect x="106" y="267" width="106" height="68" fill="#ff0a0a"/>
<rect x="0" y="334" width="107" height="67" fill="#ff9595"/><rect x="106" y="334" width="106" height="67" fill="#ff1a1a"/>
<rect x="0" y="400" width="107" height="68" fill="#4040ff"/><rect x="106" y="400" width="106" height="68" fill="#ff4545"/>
<rect x="0" y="467" width="107" height="68" fill="#ff2a2a"/><rect x="106" y="467" width="106" height="68" fill="#6a6aff"/>
<rect x="0" y="534" width="107" height="67" fill="#ff8585"/><rect x="106" y="534" width="106" height="67" fill="#ff2020"/>
<rect x="0" y="600" width="107" height="68" fill="#ffa0a0"/><rect x="106" y="600" width="106" height="68" fill="#ff1515"/>
<rect x="0" y="667" width="107" height="68" fill="#2a2aff"/><rect x="106" y="667" width="106" height="68" fill="#ff7575"/>
<rect x="0" y="734" width="107" height="67" fill="#0505ee"/><rect x="106" y="734" width="106" height="67" fill="#ffbdbd"/>
<rect x="0" y="800" width="107" height="67" fill="#ff9a9a"/><rect x="106" y="800" width="106" height="67" fill="#ff1010"/>
</g>

<g id="lbl-enzymes" class="t m">
<text x="739" y="3342" textLength="116" lengthAdjust="spacingAndGlyphs">INV</text>
<text x="727" y="3457" textLength="148" lengthAdjust="spacingAndGlyphs">malZ</text>
<text x="1408" y="3334" textLength="122" lengthAdjust="spacingAndGlyphs">SUS</text>
<text x="2118" y="3333" textLength="118" lengthAdjust="spacingAndGlyphs">TPS</text>
<text x="2794" y="3333" textLength="122" lengthAdjust="spacingAndGlyphs">otsB</text>
<text x="1208" y="3516" textLength="147" lengthAdjust="spacingAndGlyphs">malZ</text>
<text x="842" y="3604" textLength="94" lengthAdjust="spacingAndGlyphs">GN</text>
<text x="681" y="3722" textLength="95" lengthAdjust="spacingAndGlyphs">GN</text>
<text x="1906" y="3760" textLength="131" lengthAdjust="spacingAndGlyphs">glgC</text>
<text x="996" y="3836" textLength="129" lengthAdjust="spacingAndGlyphs">bglB</text>
<text x="1208" y="3824" textLength="131" lengthAdjust="spacingAndGlyphs">bglX</text>
<text x="152" y="4108" textLength="136" lengthAdjust="spacingAndGlyphs">scrK</text>
<text x="1212" y="4126" textLength="91" lengthAdjust="spacingAndGlyphs">EG</text>
<text x="2043" y="4427" textLength="109" lengthAdjust="spacingAndGlyphs">ISA</text>
<text x="2804" y="4427" textLength="156" lengthAdjust="spacingAndGlyphs">AMY</text>
<text x="1890" y="4605" textLength="156" lengthAdjust="spacingAndGlyphs">AMY</text>
<text x="3224" y="4637" textLength="147" lengthAdjust="spacingAndGlyphs">malZ</text>
</g>

<g id="n-dfructose"><text class="t m" x="204" y="3389" textLength="315" lengthAdjust="spacingAndGlyphs">D-Fructose</text></g>
<g id="n-sucrose"><text class="t m" x="1030" y="3389" textLength="218" lengthAdjust="spacingAndGlyphs">Sucrose</text></g>
<g id="n-udpglucose"><text class="t m" x="1682" y="3389" textLength="364" lengthAdjust="spacingAndGlyphs">UDP-glucose</text></g>
<g id="n-trehalose6p"><text class="t m" x="2345" y="3389" textLength="371" lengthAdjust="spacingAndGlyphs">Trehalose-6P</text></g>
<g id="n-trehalose"><text class="t m" x="3016" y="3389" textLength="277" lengthAdjust="spacingAndGlyphs">Trehalose</text></g>
<g id="n-glucan"><text class="t m" x="379" y="3658" textLength="439" lengthAdjust="spacingAndGlyphs">1.3-β-D-Glucan</text></g>
<g id="n-dglucose1"><text class="t m" x="1012" y="3658" textLength="293" lengthAdjust="spacingAndGlyphs">D-Glucose</text></g>
<g id="n-aglc1p"><text class="t m" x="1661" y="3658" textLength="448" lengthAdjust="spacingAndGlyphs">α-D-Glucose-1P</text></g>
<g id="n-adpglucose"><text class="t m" x="1724" y="3937" textLength="365" lengthAdjust="spacingAndGlyphs">ADP-glucose</text></g>
<g id="n-cellodextrin"><text class="t m" x="984" y="3962" textLength="349" lengthAdjust="spacingAndGlyphs">Cellodextrin</text></g>
<g id="n-amylose"><text class="t m" x="1746" y="4209" textLength="242" lengthAdjust="spacingAndGlyphs">Amylose</text></g>
<g id="n-cellulose"><text class="t m" x="1052" y="4233" textLength="257" lengthAdjust="spacingAndGlyphs">Cellulose</text></g>
<g id="n-gdpglucose"><text class="t m" x="1028" y="4480" textLength="366" lengthAdjust="spacingAndGlyphs">GDP-glucose</text></g>
<g id="n-starch"><text class="t m" x="1765" y="4478" textLength="188" lengthAdjust="spacingAndGlyphs">Starch</text></g>
<g id="n-maltodextrin"><text class="t m" x="2355" y="4480" textLength="370" lengthAdjust="spacingAndGlyphs">Maltodextrin</text></g>
<g id="n-maltose"><text class="t m" x="3066" y="4480" textLength="222" lengthAdjust="spacingAndGlyphs">Maltose</text></g>
<g id="n-dfructose6p"><text class="t m" x="176" y="4775" textLength="412" lengthAdjust="spacingAndGlyphs">D-Fructose-6P</text></g>
<g id="n-dextrin"><text class="t m" x="1781" y="4777" textLength="215" lengthAdjust="spacingAndGlyphs">Dextrin</text></g>
<g id="n-dglucose2"><text class="t m" x="3049" y="4777" textLength="293" lengthAdjust="spacingAndGlyphs">D-Glucose</text></g>
<g id="lbl-starch"><text class="t" font-size="80" x="1248" y="4905" style="fill:#33ee33" textLength="1100" lengthAdjust="spacingAndGlyphs">Starch and sucrose metabolism</text></g>
</svg>
